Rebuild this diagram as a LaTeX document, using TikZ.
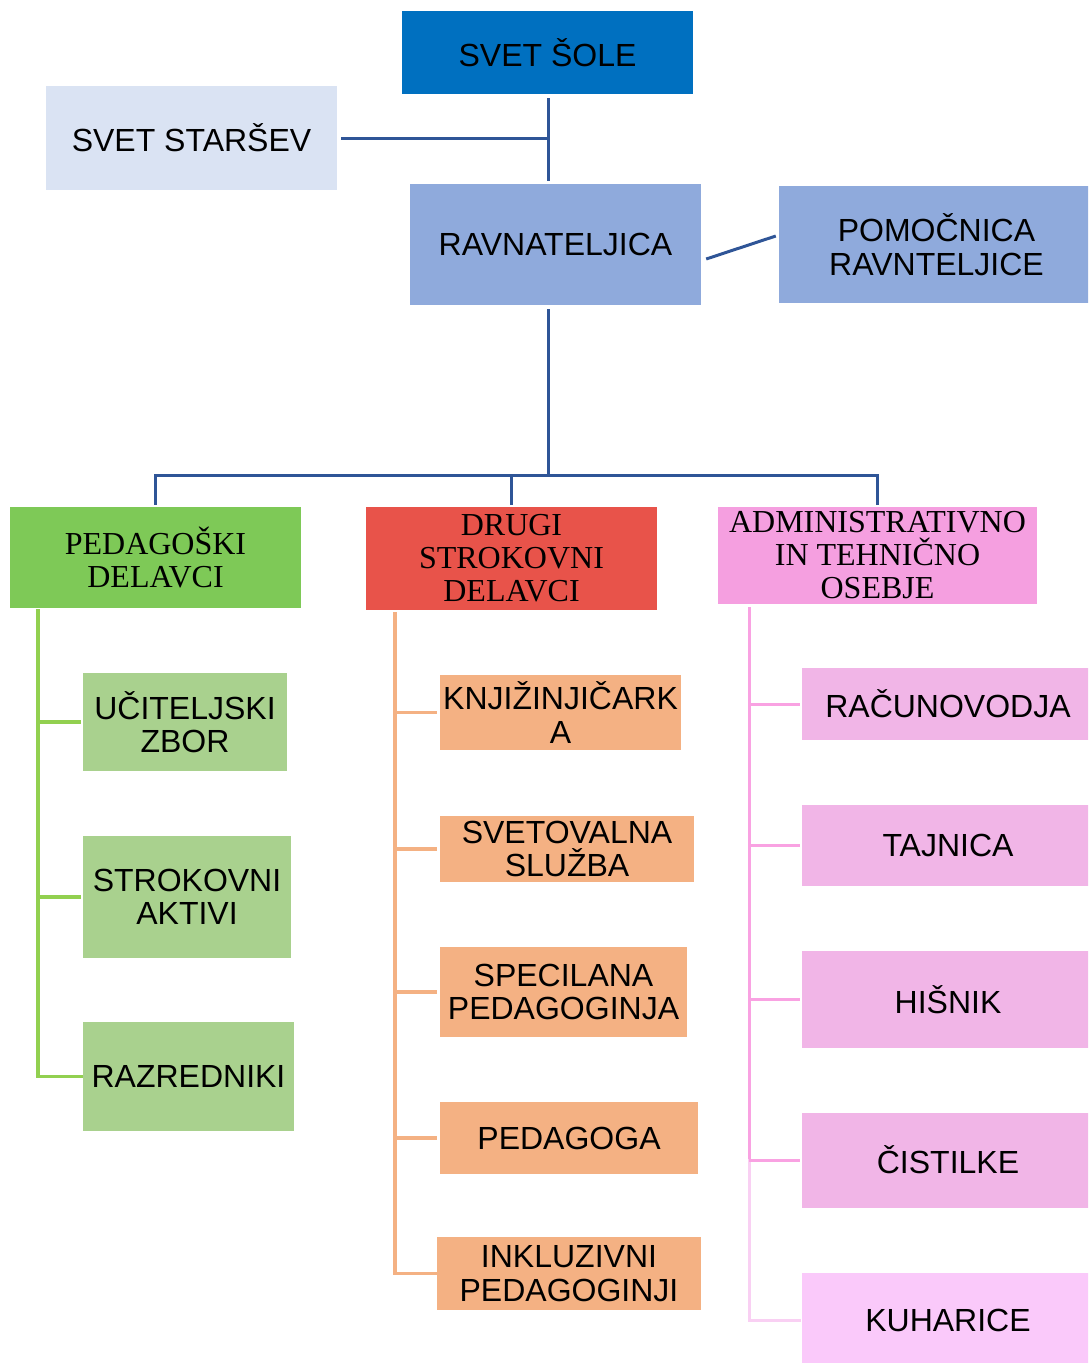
\documentclass[tikz,border=0pt]{standalone}
\usepackage{fontspec}
\setmainfont{Liberation Sans}
\newfontfamily\headserif{Liberation Serif}
\usetikzlibrary{calc}
\definecolor{soleblue}{HTML}{0070C0}
\definecolor{parlight}{HTML}{DAE3F3}
\definecolor{ravblue}{HTML}{8FAADC}
\definecolor{linkblue}{HTML}{2F5597}
\definecolor{pedhead}{HTML}{7EC957}
\definecolor{drugihead}{HTML}{E8534A}
\definecolor{adminhead}{HTML}{F59FE0}
\definecolor{greenchild}{HTML}{A9D18E}
\definecolor{greenline}{HTML}{92D050}
\definecolor{orangechild}{HTML}{F4B183}
\definecolor{pinkchild}{HTML}{F1B5E7}
\definecolor{pinkline}{HTML}{F9A2E2}
\definecolor{pinklight}{HTML}{F9D0F3}
\definecolor{kuhfill}{HTML}{FAC9FA}
\begin{document}
\begin{tikzpicture}[x=1pt,y=-1pt,
  orgbox/.style={rectangle, inner sep=0pt, align=center, text=black,
    font=\fontsize{32}{33.5}\selectfont},
  headbox/.style={rectangle, inner sep=0pt, align=center, text=black,
    font=\headserif\fontsize{32}{33}\selectfont},
  bluelink/.style={draw=linkblue, line width=3pt},
  greenlink/.style={draw=greenline, line width=3.5pt},
  orangelink/.style={draw=orangechild, line width=3.5pt},
  pinklink/.style={draw=pinkline, line width=3pt},
]
\useasboundingbox (0,0) rectangle (1088,1363);
\clip (0,0) rectangle (1088,1363);

% top part
\node[orgbox, fill=soleblue, minimum width=291pt, minimum height=83pt] (sole) at (547.5,52.5) {SVET ŠOLE};
\node[orgbox, fill=parlight, minimum width=291pt, minimum height=104pt] (starsev) at (191.5,138) {SVET STARŠEV};
\node[orgbox, fill=ravblue, minimum width=291pt, minimum height=121pt] (ravn) at (555.5,244.5) {RAVNATELJICA};
\node[orgbox, fill=ravblue, minimum width=315pt, minimum height=117pt] (pomoc) at (936.5,244.5) {POMOČNICA\\RAVNTELJICE};

% heads
\node[headbox, fill=pedhead, minimum width=291pt, minimum height=101pt] (ped) at (155.5,557.5) {PEDAGOŠKI\\DELAVCI};
\node[headbox, fill=drugihead, minimum width=291pt, minimum height=103pt] (drugi) at (511.5,558.5) {DRUGI\\STROKOVNI\\DELAVCI};
\node[headbox, fill=adminhead, minimum width=319pt, minimum height=97pt] (admin) at (877.5,555.5) {ADMINISTRATIVNO\\IN TEHNIČNO\\OSEBJE};

% green children
\node[orgbox, fill=greenchild, minimum width=204pt, minimum height=98pt] (ucit) at (185,722) {UČITELJSKI\\ZBOR};
\node[orgbox, fill=greenchild, minimum width=208pt, minimum height=122pt] (strok) at (187,897) {STROKOVNI\\AKTIVI};
\node[orgbox, fill=greenchild, minimum width=211pt, minimum height=109pt] (razr) at (188.5,1076.5) {RAZREDNIKI};

% orange children
\node[orgbox, fill=orangechild, minimum width=241pt, minimum height=75pt] (knji) at (560.5,712.5) {KNJIŽINJIČARK\\A};
\node[orgbox, fill=orangechild, minimum width=254pt, minimum height=66pt] (svet) at (567,849) {SVETOVALNA\\SLUŽBA};
\node[orgbox, fill=orangechild, minimum width=247pt, minimum height=90pt] (spec) at (563.5,992) {SPECILANA\\PEDAGOGINJA};
\node[orgbox, fill=orangechild, minimum width=258pt, minimum height=72pt] (pedg) at (569,1138) {PEDAGOGA};
\node[orgbox, fill=orangechild, minimum width=264pt, minimum height=73pt] (inkl) at (569,1273.5) {INKLUZIVNI\\PEDAGOGINJI};

% pink children
\node[orgbox, fill=pinkchild, minimum width=292pt, minimum height=72pt] (racun) at (948,704) {RAČUNOVODJA};
\node[orgbox, fill=pinkchild, minimum width=292pt, minimum height=81pt] (tajn) at (948,845.5) {TAJNICA};
\node[orgbox, fill=pinkchild, minimum width=292pt, minimum height=97pt] (hisn) at (948,999.5) {HIŠNIK};
\node[orgbox, fill=pinkchild, minimum width=292pt, minimum height=95pt] (cist) at (948,1160) {ČISTILKE};
\node[orgbox, fill=kuhfill, minimum width=292pt, minimum height=94pt] (kuh) at (948,1320) {KUHARICE};

% blue connectors
\coordinate (bus) at (548,475);
\draw[bluelink, shorten <=4pt, shorten >=3pt] (sole.south -| bus) -- (ravn.north -| bus);
\draw[bluelink, shorten <=4pt] (starsev.east) -- (starsev.east -| bus);
\draw[bluelink] ($(ravn.east)+(5,14.5)$) -- ($(pomoc.west)+(-3,-8.5)$);
\draw[bluelink, shorten <=4pt] (ravn.south -| bus) -- (bus);
\draw[bluelink, shorten <=2pt] (ped.north) -- (ped.north |- bus) -- (admin.north |- bus) -- ($(admin.north)+(0,-2)$);
\draw[bluelink, shorten <=2pt] (drugi.north) -- (drugi.north |- bus);

% green branches
\coordinate (gtrunk) at (38,611);
\draw[greenlink, line cap=rect] (gtrunk) |- ($(razr.west)+(-2,0)$);
\draw[greenlink] (gtrunk |- ucit.west) -- ($(ucit.west)+(-2,0)$);
\draw[greenlink] (gtrunk |- strok.west) -- ($(strok.west)+(-2,0)$);

% orange branches
\coordinate (otrunk) at (395,614);
\draw[orangelink, line cap=rect] (otrunk) |- ($(inkl.west)+(-1,0)$);
\draw[orangelink] (otrunk |- knji.west) -- ($(knji.west)+(-3,0)$);
\draw[orangelink] (otrunk |- svet.west) -- ($(svet.west)+(-3,0)$);
\draw[orangelink] (otrunk |- spec.west) -- ($(spec.west)+(-3,0)$);
\draw[orangelink] (otrunk |- pedg.west) -- ($(pedg.west)+(-3,0)$);

% pink branches
\coordinate (ptrunk) at (749,607);
\draw[pinklink] (ptrunk) -- (ptrunk |- cist.west);
\draw[pinklink, draw=pinklight, line cap=rect] (ptrunk |- cist.west) |- ($(kuh.west)+(-2,0)$);
\draw[pinklink] (ptrunk |- racun.west) -- ($(racun.west)+(-2,0)$);
\draw[pinklink] (ptrunk |- tajn.west) -- ($(tajn.west)+(-2,0)$);
\draw[pinklink] (ptrunk |- hisn.west) -- ($(hisn.west)+(-2,0)$);
\draw[pinklink] (ptrunk |- cist.west) -- ($(cist.west)+(-2,0)$);
\end{tikzpicture}
\end{document}
